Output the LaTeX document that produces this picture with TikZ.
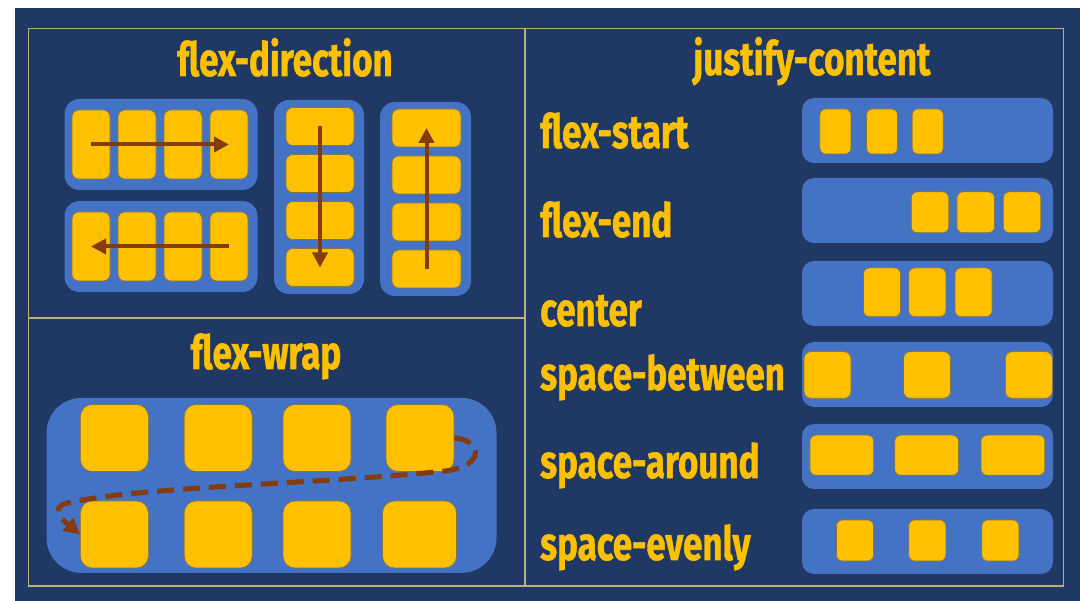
\documentclass[tikz,border=0pt]{standalone}
\usepackage{fontspec}
\setmainfont{Fira Sans}[BoldFeatures={FakeBold=1.2}]
\usepackage{graphicx}
\usetikzlibrary{arrows.meta}
\definecolor{bgnavy}{HTML}{203864}
\definecolor{boxblue}{HTML}{4472C4}
\definecolor{itemgold}{HTML}{FFC000}
\definecolor{itemedge}{HTML}{8A7540}
\definecolor{arrowbrown}{HTML}{843C0C}
\definecolor{frameline}{HTML}{BFAF80}
\newcommand{\narrowtxt}[1]{\scalebox{0.76}[1.02]{#1}}
\tikzset{
	container/.style={fill=boxblue, rounded corners=12pt, inner sep=0pt},
	item/.style={fill=itemgold, draw=itemedge, line width=0.6pt, rounded corners=7pt, inner sep=0pt},
	heading/.style={text=itemgold, font=\fontsize{46}{50}\selectfont\bfseries, inner sep=0pt},
	dirarrow/.style={draw=arrowbrown, line width=4pt, -{Triangle[length=15pt,width=15pt]}},
	wraparrow/.style={draw=arrowbrown, line width=5pt, dash pattern=on 17pt off 9pt, -{Triangle[length=16pt,width=16pt]}}
}
\begin{document}
\begin{tikzpicture}[x=1pt,y=-1pt]
			\useasboundingbox (0,0) rectangle (1080,601);
			\fill[white] (0,0) rectangle (1080,601);
			\fill[bgnavy] (15,8) rectangle (1080,601);
			\draw[frameline, line width=1.2pt] (28.5,28.5) rectangle (1063.5,586);
			\draw[frameline, line width=1.2pt] (525,28.5) -- (525,586);
			\draw[frameline, line width=1.2pt] (28.5,318) -- (525,318);

			\node[heading, anchor=base] (dirtitle) at (285,76) {\narrowtxt{flex-direction}};
			\node[heading, anchor=base] (wraptitle) at (266,369) {\narrowtxt{flex-wrap}};
			\node[heading, anchor=base] (justtitle) at (812,75) {\narrowtxt{justify-content}};

			\node[container, rounded corners=15pt, minimum width=193pt, minimum height=91pt] (rowbox) at (161,144.5) {};
			\node[container, rounded corners=15pt, minimum width=193pt, minimum height=91pt] (revbox) at (161,246.5) {};
			\node[container, rounded corners=15pt, minimum width=90pt, minimum height=194pt] (colbox) at (319,197) {};
			\node[container, rounded corners=15pt, minimum width=91pt, minimum height=194pt] (colrevbox) at (425.5,199) {};
			\foreach \i/\x in {1/91,2/137,3/183,4/229} {
				\node[item, minimum width=38pt, minimum height=69pt] (r\i) at (\x,144.5) {};
				\node[item, minimum width=38pt, minimum height=69pt] (q\i) at (\x,246.5) {};
			}
			\foreach \i/\y in {1/126.5,2/173.5,3/220.5,4/267.5}
				\node[item, minimum width=68pt, minimum height=38pt] (c\i) at (320,\y) {};
			\foreach \i/\y in {1/128,2/175,3/222,4/269}
				\node[item, minimum width=69pt, minimum height=38pt] (k\i) at (426.5,\y) {};
			\draw[dirarrow] (r1.center) -- (r4.center);
			\draw[dirarrow] (q4.center) -- (q1.center);
			\draw[dirarrow] (c1.center) -- (c4.center);
			\draw[dirarrow] (k4.center) -- (k1.center);

			\node[container, rounded corners=35pt, minimum width=450pt, minimum height=175pt] (wrapbox) at (271.5,485.4) {};
			\foreach \i/\x in {1/114.4,2/218.2,3/317,4/420}
				\node[item, rounded corners=12pt, minimum width=68pt, minimum height=67pt] (w\i) at (\x,438) {};
			\foreach \i/\x in {5/114.4,6/218.2,7/317}
				\node[item, rounded corners=12pt, minimum width=68pt, minimum height=67pt] (w\i) at (\x,534.5) {};
			\node[item, rounded corners=12pt, minimum width=74pt, minimum height=67pt] (w8) at (419.5,534.5) {};
			\draw[wraparrow] (w4.east) .. controls (482,440) and (486,466) .. (445,471)
				.. controls (320,484) and (150,486) .. (72,502)
				.. controls (50,506) and (58,516) .. (w5.west);

			\node[heading, anchor=base west] (jstart) at (540,148) {\narrowtxt{flex-start}};
			\node[heading, anchor=base west] (jend) at (540,237) {\narrowtxt{flex-end}};
			\node[heading, anchor=base west] (jcenter) at (540,326) {\narrowtxt{center}};
			\node[heading, anchor=base west] (jbetween) at (540,390) {\narrowtxt{space-between}};
			\node[heading, anchor=base west] (jaround) at (540,478) {\narrowtxt{space-around}};
			\node[heading, anchor=base west] (jevenly) at (540,560) {\narrowtxt{space-evenly}};

			\foreach \n/\y in {1/130.5,2/210.5,3/293.5,4/374.5,5/456.5,6/541.5}
				\node[container, minimum width=251pt, minimum height=65pt] (row\n) at (927.5,\y) {};
			\foreach \i/\x in {1/835.4,2/882,3/927.7}
				\node[item, rounded corners=6pt, minimum width=31pt, minimum height=45pt] (s\i) at (\x,131.5) {};
			\foreach \i/\x in {1/930,2/975.7,3/1022}
				\node[item, rounded corners=6pt, minimum width=37.5pt, minimum height=40.7pt] (e\i) at (\x,212.3) {};
			\foreach \i/\x in {1/882,2/927.3,3/973.5}
				\node[item, rounded corners=6pt, minimum width=37pt, minimum height=48.7pt] (m\i) at (\x,292.3) {};
			\foreach \i/\x in {1/827.5,2/927,3/1028.8}
				\node[item, rounded corners=7pt, minimum width=47pt, minimum height=46.6pt] (b\i) at (\x,375) {};
			\foreach \i/\x in {1/841.8,2/926.6,3/1012.9}
				\node[item, rounded corners=6pt, minimum width=63.7pt, minimum height=40pt] (a\i) at (\x,455.2) {};
			\foreach \i/\x in {1/855,2/927.3,3/1000.3}
				\node[item, rounded corners=6pt, minimum width=37pt, minimum height=41pt] (v\i) at (\x,540.5) {};
		\end{tikzpicture}
\end{document}
